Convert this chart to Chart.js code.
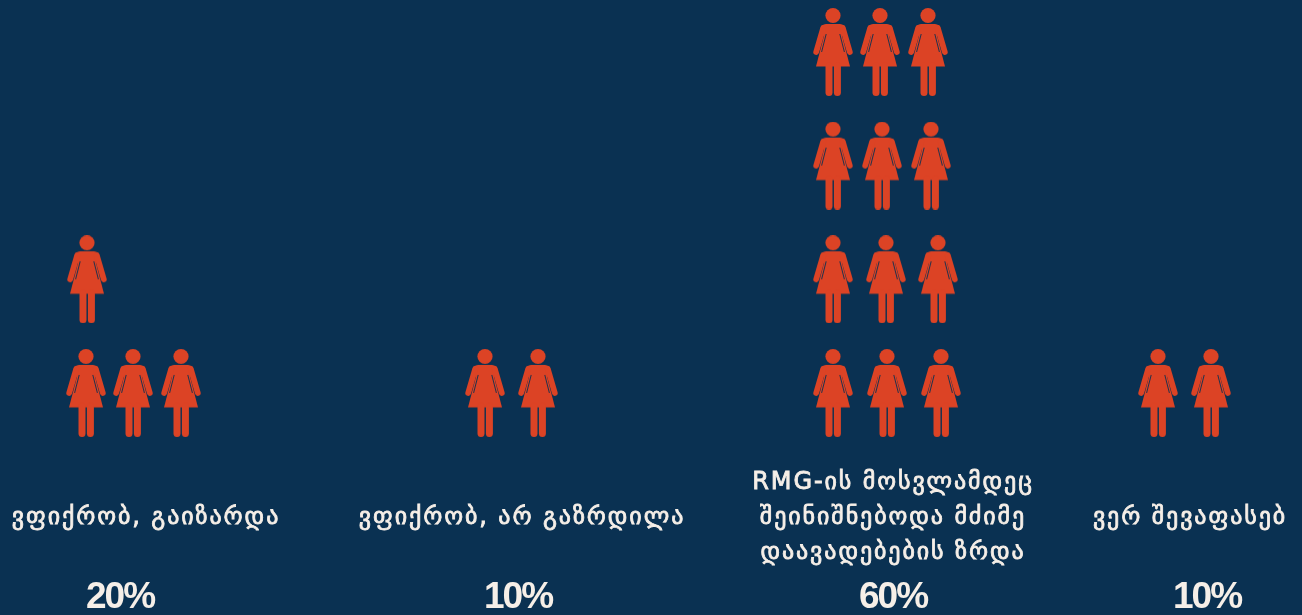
<!DOCTYPE html>
<html><head><meta charset="utf-8">
<style>html,body{margin:0;padding:0;background:#0A3152;overflow:hidden}canvas{display:block}</style>
<script src="https://cdn.jsdelivr.net/npm/chart.js@4"></script>
</head><body><canvas id="c" width="1302" height="615"></canvas>
<script>
const categories = [
  ["ვფიქრობ, გაიზარდა"],
  ["ვფიქრობ, არ გაზრდილა"],
  ["RMG-ის მოსვლამდეც", "შეინიშნებოდა მძიმე", "დაავადებების ზრდა"],
  ["ვერ შევაფასებ"]
];
const shares = ["20%", "10%", "60%", "10%"];
// icon columns, one list per pictogram row (row 0 = bottom)
const answer1Rows = [[86, 133, 181], [87]];
const answer2Rows = [[485, 538]];
const answer3Rows = [[833, 887, 941], [833, 886, 938], [833, 882, 931], [833, 880, 928]];
const answer4Rows = [[1158, 1211]];
const labelCentres = [146, 522, 893, 1190];
const shareCentres = [120, 518, 893, 1207];

const BG = "#0A3152", ICON = "#DC4325", TEXT = "#F6EFE8";

function personIcon() {
  const c = document.createElement("canvas");
  c.width = 40; c.height = 88;
  const g = c.getContext("2d");
  g.filter = "blur(0.35px)";
  g.fillStyle = ICON; g.strokeStyle = ICON;
  g.beginPath(); g.arc(20, 7.5, 7.6, 0, 7); g.fill();
  g.beginPath(); g.roundRect(7.5, 16, 25, 12, 5.5); g.fill();
  g.beginPath(); g.moveTo(13, 20); g.lineTo(27, 20); g.lineTo(37, 58.6); g.lineTo(3, 58.6); g.closePath(); g.fill();
  g.lineWidth = 5.8; g.lineCap = "round";
  [[10.2, 20, 3.2, 44], [29.8, 20, 36.8, 44]].forEach(a => {
    g.beginPath(); g.moveTo(a[0], a[1]); g.lineTo(a[2], a[3]); g.stroke();
  });
  g.strokeStyle = BG; g.lineWidth = 0.9; g.lineCap = "butt";
  [[13.2, 26, 8.6, 44], [26.8, 26, 31.4, 44]].forEach(a => {
    g.beginPath(); g.moveTo(a[0], a[1]); g.lineTo(a[2], a[3]); g.stroke();
  });
  g.strokeStyle = ICON; g.lineWidth = 7; g.lineCap = "round";
  [16, 24.4].forEach(x => { g.beginPath(); g.moveTo(x, 58); g.lineTo(x, 84.5); g.stroke(); });
  return c;
}

const points = [];
[answer1Rows, answer2Rows, answer3Rows, answer4Rows].forEach(rows =>
  rows.forEach((xs, row) => xs.forEach(x => points.push({ x: x, y: row }))));

const textPlugin = {
  id: "answerText",
  beforeDraw(chart) {
    const g = chart.ctx;
    g.save(); g.fillStyle = BG; g.fillRect(0, 0, chart.width, chart.height); g.restore();
  },
  afterDatasetsDraw(chart) {
    const g = chart.ctx, xs = chart.scales.x, ys = chart.scales.y;
    g.save();
    g.fillStyle = TEXT; g.strokeStyle = TEXT; g.textAlign = "center"; g.textBaseline = "middle";
    g.font = '24px "DejaVu Sans", sans-serif';
    g.letterSpacing = "1.9px"; g.lineWidth = 0.8;
    categories.forEach((lines, i) => {
      const mid = ys.getPixelForValue(-1.1);
      lines.forEach((t, k) => {
        const x = xs.getPixelForValue(labelCentres[i]), y = mid + (k - (lines.length - 1) / 2) * 35;
        g.fillText(t, x, y); g.strokeText(t, x, y);
      });
    });
    g.font = 'bold 37px "Liberation Sans", sans-serif';
    g.letterSpacing = "-2px";
    shares.forEach((t, i) => {
      g.fillText(t, xs.getPixelForValue(shareCentres[i]), ys.getPixelForValue(-1.8));
    });
    g.restore();
  }
};

new Chart(document.getElementById("c"), {
  type: "scatter",
  data: { datasets: [{ data: points, pointStyle: personIcon(), pointRadius: 20, pointHoverRadius: 20, clip: false }] },
  options: {
    responsive: false, animation: false, devicePixelRatio: 1,
    layout: { padding: 0, autoPadding: false },
    plugins: { legend: { display: false }, tooltip: { enabled: false }, title: { display: false } },
    scales: {
      x: { type: "linear", min: 0, max: 1302, display: false },
      y: { type: "linear", min: -1.9545, max: 3.4575, display: false }
    }
  },
  plugins: [textPlugin]
});
</script></body></html>
